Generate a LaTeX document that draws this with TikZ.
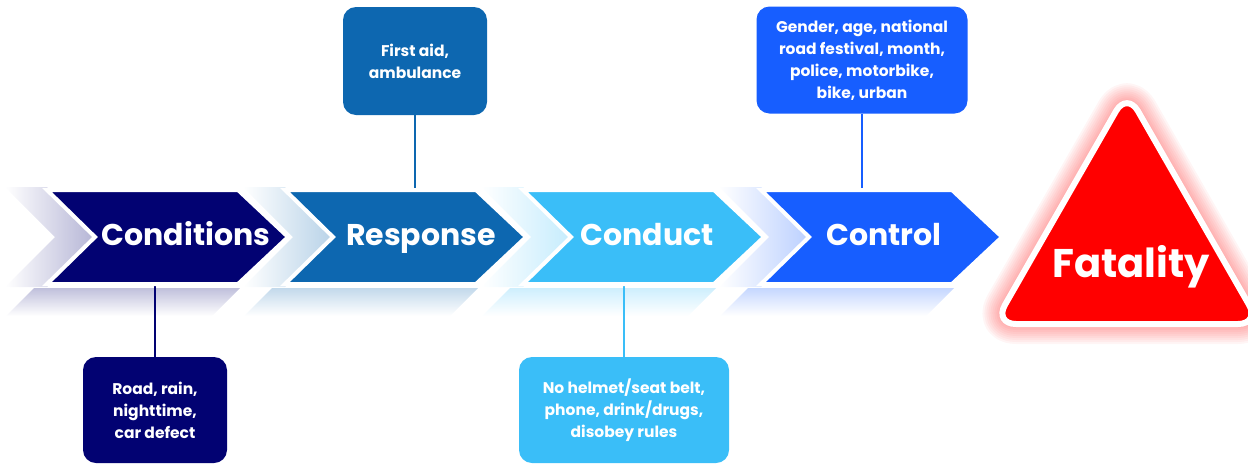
\documentclass[tikz,border=0pt]{standalone}
\usepackage{fontspec}
\setmainfont{Poppins}
\usetikzlibrary{positioning}
\definecolor{condcol}{RGB}{2,2,114}
\definecolor{respcol}{RGB}{13,103,176}
\definecolor{conductcol}{RGB}{58,190,248}
\definecolor{ctrlcol}{RGB}{23,94,255}
\definecolor{fatalcol}{RGB}{255,0,0}

\begin{document}
\begin{tikzpicture}[x=1pt,y=-1pt,
	chevtext/.style={text=white,font=\bfseries\fontsize{30}{32}\selectfont,anchor=base},
	infobox/.style={rounded corners=13pt,text=white,align=center,inner sep=0pt,
		font=\bfseries\fontsize{15.5}{22}\selectfont},
	link/.style={line width=2.5pt}]

	\useasboundingbox (0,0) rectangle (1248,464);

	\foreach \x/\c in {47/condcol,285/respcol,523/conductcol,761/ctrlcol}{
		\shade[left color=white,right color=\c!30] (\x-42,187) -- (\x,187) -- (\x+50,237) -- (\x,287) -- (\x-42,287) -- (\x+8,237) -- cycle;
		\shade[top color=\c!25,bottom color=white] (\x-13,288) -- (\x+193,288) -- (\x+165,316) -- (\x-41,316) -- cycle;
	}

	\node[infobox,fill=condcol,minimum width=144pt,minimum height=106pt] (condbox) at (155,410) {Road, rain,\\nighttime,\\car defect};
	\node[infobox,fill=respcol,minimum width=144pt,minimum height=108pt] (respbox) at (415,61) {First aid,\\ambulance};
	\node[infobox,fill=conductcol,minimum width=210pt,minimum height=106pt] (conductbox) at (624,410) {No helmet/seat belt,\\phone, drink/drugs,\\disobey rules};
	\node[infobox,fill=ctrlcol,minimum width=211pt,minimum height=107pt] (ctrlbox) at (862,60) {Gender, age, national\\road festival, month,\\police, motorbike,\\bike, urban};

	\coordinate (condedge) at (155,286);
	\coordinate (respedge) at (415,188);
	\coordinate (conductedge) at (624,286);
	\coordinate (ctrledge) at (862,188);

	\draw[link,condcol] (condbox.north) -- (condedge);
	\draw[link,respcol] (respbox.south) -- (respedge);
	\draw[link,conductcol] (conductbox.north) -- (conductedge);
	\draw[link,ctrlcol] (ctrlbox.south) -- (ctrledge);

	\foreach \x/\c in {47/condcol,285/respcol,523/conductcol,761/ctrlcol}
		\filldraw[fill=\c,draw=white,line width=4pt] (\x,190) -- (\x+191,190) -- (\x+241,237) -- (\x+191,284) -- (\x,284) -- (\x+48,237) -- cycle;

	\node[chevtext] (cond) at (186,245) {Conditions};
	\node[chevtext] (resp) at (421,245) {Response};
	\node[chevtext] (conduct) at (647,245) {Conduct};
	\node[chevtext] (ctrl) at (884,245) {Control};

	\coordinate (ta) at (1127,92);
	\coordinate (tl) at (994,324);
	\coordinate (tr) at (1260,324);
	\foreach \w in {40,36,...,4}
		\draw[fatalcol,opacity=.04,line width=\w pt,line join=round,rounded corners=22pt,shift={(0,10)}] (ta) -- (tr) -- (tl) -- cycle;
	\filldraw[fill=fatalcol,draw=white,line width=6pt,rounded corners=22pt] (ta) -- (tr) -- (tl) -- cycle;
	\node[text=white,font=\bfseries\fontsize{40}{40}\selectfont,anchor=base] (fatal) at (1131,277) {Fatality};
\end{tikzpicture}
\end{document}
